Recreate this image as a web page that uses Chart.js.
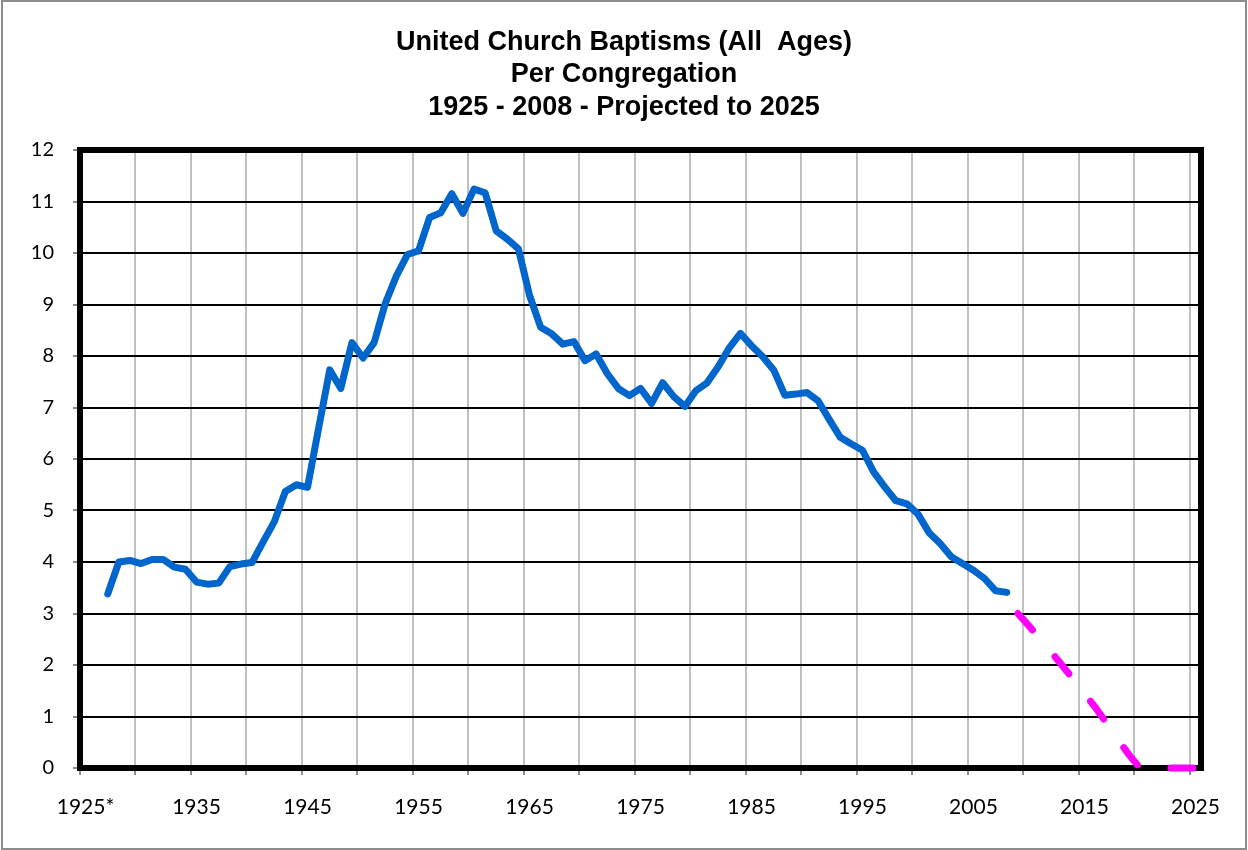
<!DOCTYPE html>
<html>
<head>
<meta charset="utf-8">
<script src="https://cdn.jsdelivr.net/npm/chart.js@4.4.1/dist/chart.umd.min.js"></script>
<style>
html,body{margin:0;padding:0;background:#fff;}
#wrap{width:1248px;height:850px;position:relative;}
</style>
</head>
<body>
<div id="wrap"><canvas id="c" width="1248" height="850"></canvas></div>
<script>
const titleLines = ['United Church Baptisms (All  Ages)', 'Per Congregation', '1925 - 2008 - Projected to 2025'];

const years = [1925,1926,1927,1928,1929,1930,1931,1932,1933,1934,1935,1936,1937,1938,1939,1940,1941,1942,1943,1944,
  1945,1946,1947,1948,1949,1950,1951,1952,1953,1954,1955,1956,1957,1958,1959,1960,1961,1962,1963,1964,
  1965,1966,1967,1968,1969,1970,1971,1972,1973,1974,1975,1976,1977,1978,1979,1980,1981,1982,1983,1984,
  1985,1986,1987,1988,1989,1990,1991,1992,1993,1994,1995,1996,1997,1998,1999,2000,2001,2002,2003,2004,
  2005,2006,2007,2008,2009,2010,2011,2012,2013,2014,2015,2016,2017,2018,2019,2020,2021,2022,2023,2024,2025];

const xTickLabels = ['1925*','1935','1945','1955','1965','1975','1985','1995','2005','2015','2025'];

const actualYears = [1927,1928,1929,1930,1931,1932,1933,1934,1935,1936,1937,1938,1939,1940,1941,1942,1943,1944,
  1945,1946,1947,1948,1949,1950,1951,1952,1953,1954,1955,1956,1957,1958,1959,1960,1961,1962,1963,1964,
  1965,1966,1967,1968,1969,1970,1971,1972,1973,1974,1975,1976,1977,1978,1979,1980,1981,1982,1983,1984,
  1985,1986,1987,1988,1989,1990,1991,1992,1993,1994,1995,1996,1997,1998,1999,2000,2001,2002,2003,2004,
  2005,2006,2007,2008];
const actual = [3.38,4.00,4.03,3.97,4.05,4.05,3.90,3.86,3.61,3.57,
  3.59,3.91,3.96,3.99,4.39,4.78,5.37,5.50,5.45,6.60,
  7.73,7.37,8.26,7.96,8.26,9.02,9.55,9.97,10.04,10.69,
  10.78,11.15,10.77,11.24,11.17,10.43,10.27,10.08,9.18,8.56,
  8.43,8.23,8.28,7.91,8.04,7.66,7.37,7.23,7.37,7.08,
  7.48,7.21,7.02,7.33,7.48,7.79,8.16,8.44,8.20,7.99,
  7.73,7.24,7.26,7.29,7.13,6.77,6.42,6.29,6.17,5.75,
  5.46,5.19,5.13,4.93,4.57,4.36,4.10,3.97,3.84,3.68,
  3.44,3.41];

const projectedYears = [2009,2010,2011,2012,2013,2014,2015,2016,2017,2018,2019,2020,2021,2022,2023,2024,2025];
const projected = [3.00,2.76,2.51,2.25,1.99,1.72,1.45,1.17,0.87,0.56,0.26,0,0,0,0,0,0];

const framePlugin = {
  id: 'frame',
  beforeDraw(chart) {
    const c = chart.ctx;
    c.save();
    c.fillStyle = '#fff';
    c.fillRect(0, 0, chart.width, chart.height);
    c.strokeStyle = '#8c8c8c';
    c.lineWidth = 2;
    c.strokeRect(2, 1, 1244, 848);
    // title
    c.fillStyle = '#000';
    c.font = 'bold 27px "Liberation Sans", Arial, sans-serif';
    c.textAlign = 'center';
    c.textBaseline = 'alphabetic';
    const baselines = [49.5, 82, 114.5];
    titleLines.forEach((t, i) => c.fillText(t, 624, baselines[i]));
    c.restore();
  },
  beforeDatasetsDraw(chart) {
    const a = chart.chartArea;
    const c = chart.ctx;
    c.save();
    c.strokeStyle = '#000';
    c.lineWidth = 6;
    c.lineJoin = 'miter';
    c.strokeRect(a.left, a.top, a.right - a.left, a.bottom - a.top);
    c.restore();
  }
};

new Chart(document.getElementById('c'), {
  type: 'line',
  data: {
    labels: years.map(String),
    datasets: [
      {
        label: 'Actual',
        data: actualYears.map((y, i) => ({x: String(y), y: actual[i]})),
        borderColor: '#0066CC',
        borderWidth: 7,
        pointRadius: 0,
        tension: 0,
        borderCapStyle: 'round',
        borderJoinStyle: 'round',
        clip: false
      },
      {
        label: 'Projected',
        data: projectedYears.map((y, i) => ({x: String(y), y: projected[i]})),
        borderColor: '#FF00FF',
        borderWidth: 7,
        borderDash: [22, 35],
        pointRadius: 0,
        tension: 0,
        borderCapStyle: 'round',
        borderJoinStyle: 'round',
        clip: false
      }
    ]
  },
  options: {
    responsive: false,
    animation: false,
    devicePixelRatio: 1,
    layout: {padding: {left: 0, right: 47, top: 150, bottom: 0}},
    plugins: {
      legend: {display: false},
      tooltip: {enabled: false},
      title: {display: false}
    },
    scales: {
      x: {
        type: 'category',
        offset: true,
        grid: {
          offset: true,
          color: c => (c.index % 5 === 0 && c.index > 0) ? '#c0c0c0' : 'rgba(0,0,0,0)',
          lineWidth: 2,
          drawTicks: true,
          tickLength: 7,
          tickColor: c => (c.index % 5 === 0) ? '#8c8c8c' : 'rgba(0,0,0,0)',
          tickWidth: 2
        },
        border: {display: false},
        ticks: {
          autoSkip: false,
          maxRotation: 0,
          minRotation: 0,
          padding: 20,
          color: '#000',
          font: {family: 'Lato, Carlito, sans-serif', size: 21},
          callback: (v, i) => (i % 10 === 0) ? xTickLabels[i / 10] : ''
        },
        afterFit(s) { s.height = 82; }
      },
      y: {
        min: 0,
        max: 12,
        ticks: {
          stepSize: 1,
          padding: 19,
          color: '#000',
          font: {family: 'Lato, Carlito, sans-serif', size: 20}
        },
        grid: {color: '#000', lineWidth: 2, tickLength: 7, tickColor: '#8c8c8c', tickWidth: 2},
        border: {display: false},
        afterFit(s) { s.width = 80; }
      }
    }
  },
  plugins: [framePlugin]
});
</script>
</body>
</html>
